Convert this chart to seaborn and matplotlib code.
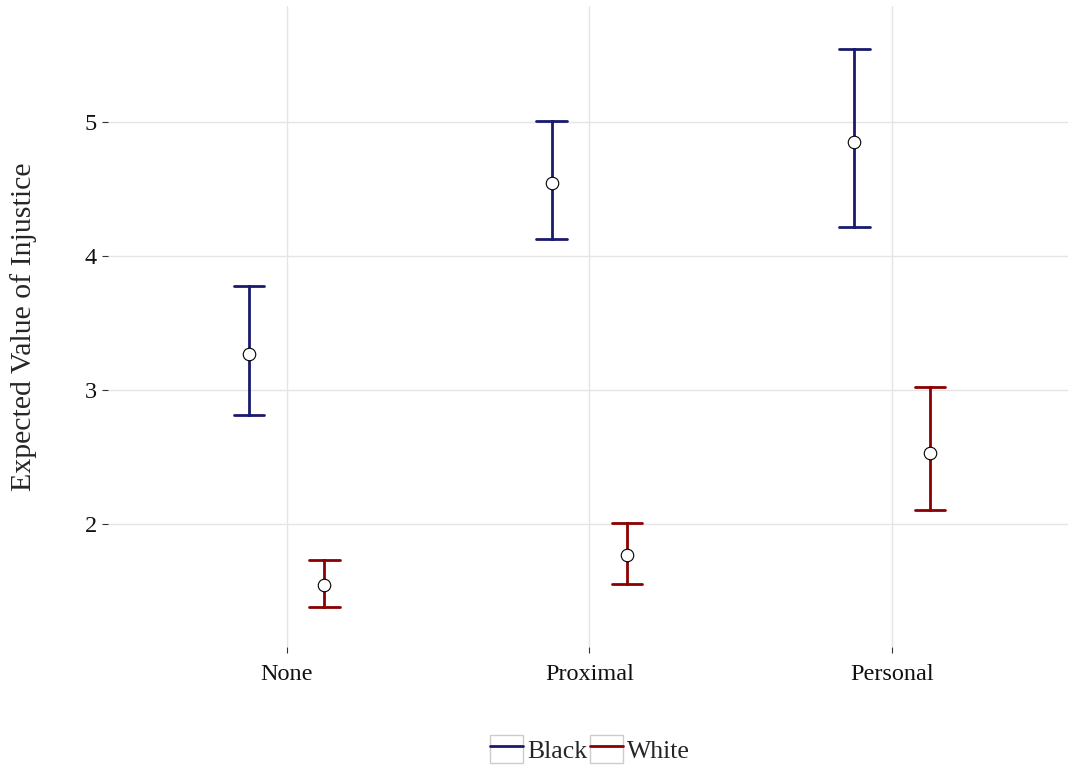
import numpy as np
import pandas as pd
import seaborn as sns
import matplotlib.pyplot as plt
from matplotlib.lines import Line2D
from matplotlib.patches import Rectangle
from matplotlib.legend_handler import HandlerTuple

# values: lower bound, estimate, upper bound
conditions = ["None", "Proximal", "Personal"]
groups = ["Black", "White"]
black_lo = [2.81, 4.13, 4.22]
black_est = [3.27, 4.55, 4.85]
black_hi = [3.78, 5.01, 5.55]
white_lo = [1.38, 1.55, 2.10]
white_est = [1.54, 1.77, 2.53]
white_hi = [1.73, 2.01, 3.02]
colors = {"Black": "#1a1a6e", "White": "#8b0000"}

rows = []
for grp, lo, est, hi in [("Black", black_lo, black_est, black_hi),
                         ("White", white_lo, white_est, white_hi)]:
    for cond, a, b, c in zip(conditions, lo, est, hi):
        for v in (a, b, c):
            rows.append({"condition": cond, "group": grp, "value": v})
df = pd.DataFrame(rows)

sns.set_style("white")
plt.rcParams['font.family'] = ['Liberation Serif', 'DejaVu Serif']

fig = plt.figure(figsize=(10.68, 7.67), dpi=100)
ax = fig.add_axes([0.101, 0.1565, 0.899, 0.8357])

# median of (lo, est, hi) is the estimate, 100% interval spans lo..hi
sns.pointplot(data=df, x="condition", y="value", hue="group",
              order=conditions, hue_order=groups, palette=colors,
              estimator="median", errorbar=("pi", 100), dodge=0.25,
              linestyles="none", markers="o", capsize=0.1,
              linewidth=2.0, markersize=9, markerfacecolor="white",
              markeredgecolor="black", markeredgewidth=0.8, zorder=3,
              err_kws={"zorder": 2}, legend=False, ax=ax)

ax.set_xlim(-0.59, 2.58)
ax.set_ylim(1.08, 5.87)
ax.set_yticks([2, 3, 4, 5])
ax.grid(True, color="#e5e5e5", linewidth=1)
ax.set_axisbelow(True)
for s in ax.spines.values():
    s.set_visible(False)
ax.tick_params(axis="both", length=4, width=0.8, color="#333333",
               labelsize=17.5, labelcolor="#111111", direction="out")
ax.tick_params(axis="x", pad=8)
ax.tick_params(axis="y", pad=4)
ax.tick_params(left=True, bottom=True)
ax.set_xlabel("")
ax.set_ylabel("Expected Value of Injustice", fontsize=21.5, labelpad=34)

handles = []
for g in groups:
    box = Rectangle((0, 0), 1, 1, facecolor="white", edgecolor="#cccccc", linewidth=1)
    ln = Line2D([], [], color=colors[g], linewidth=2.0)
    handles.append((box, ln))
fig.legend(handles, groups, loc="center", bbox_to_anchor=(590 / 1068, 1 - 749 / 767),
           ncol=2, frameon=False, fontsize=18.5, handlelength=1.3, handleheight=1.3,
           handletextpad=0.15, columnspacing=0.1,
           handler_map={tuple: HandlerTuple(ndivide=1, pad=0)})

fig.savefig("out.png", dpi=100, facecolor="white")
